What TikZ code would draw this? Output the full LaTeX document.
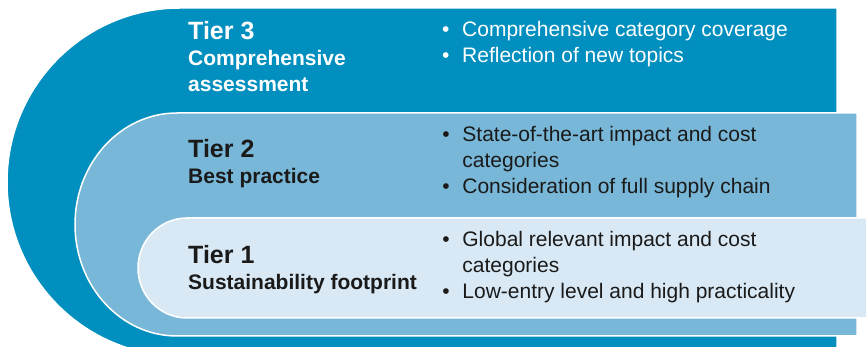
\documentclass[tikz,border=0pt]{standalone}
\usepackage{fontspec}
\setmainfont{Liberation Sans}
\usetikzlibrary{
    matrix,
    positioning
}
\definecolor{tierdark}{HTML}{008FBE}
\definecolor{tiermid}{HTML}{78B7D7}
\definecolor{tierlight}{HTML}{D8E9F5}
\definecolor{tiertext}{HTML}{1A1A1A}
\def\titlex{188}
\def\listx{442}
\tikzset{
    band/.style={
        draw=white,
        line width=1.5pt,
    },
    line/.style={
        inner sep=0pt,
        text height=19pt,
        text depth=7pt,
        anchor=base west,
    },
    title list/.style = {
        matrix of nodes,
        inner sep=0pt,
        anchor=north west,
        nodes = {line, font=\bfseries\fontsize{21}{26}\selectfont},
        row 1/.style = {nodes={font=\bfseries\fontsize{25}{30}\selectfont}},
    },
    bullet list/.style = {
        matrix of nodes,
        inner sep=0pt,
        anchor=north west,
        nodes = {line, font=\fontsize{21}{26}\selectfont},
        column 1/.style = {nodes={text width=20pt, align=left}},
    },
}

\begin{document}
\begin{tikzpicture}[x=1pt, y=1pt]
        \useasboundingbox (0,0) rectangle (866,347);
        \clip (0,0) rectangle (866,347);

        \draw [band, fill=tierdark] (837,339) -- (180,339)
            arc[start angle=90, end angle=270, x radius=173pt, y radius=174pt]
            -- (837,-9) -- cycle;
        \draw [band, fill=tiermid] (857,234) -- (177,234)
            arc[start angle=90, end angle=270, x radius=102pt, y radius=111.5pt]
            -- (857,11) -- cycle;
        \draw [band, fill=tierlight] (870,129) -- (187,129)
            arc[start angle=90, end angle=270, x radius=49pt, y radius=50pt]
            -- (870,29) -- cycle;

        \matrix (tier3) [title list, text=white] at (\titlex,327) {
            Tier 3 \\
            Comprehensive \\
            assessment \\
        };
        \matrix (tier2) [title list, text=tiertext] at (\titlex,209) {
            Tier 2 \\
            Best practice \\
        };
        \matrix (tier1) [title list, text=tiertext] at (\titlex,103) {
            Tier 1 \\
            Sustainability footprint \\
        };

        \matrix (list3) [bullet list, text=white] at (\listx,330) {
            \textbullet & Comprehensive category coverage \\
            \textbullet & Reflection of new topics \\
        };
        \matrix (list2) [bullet list, text=tiertext] at (\listx,225) {
            \textbullet & State-of-the-art impact and cost \\
                        & categories \\
            \textbullet & Consideration of full supply chain \\
        };
        \matrix (list1) [bullet list, text=tiertext] at (\listx,120) {
            \textbullet & Global relevant impact and cost \\
                        & categories \\
            \textbullet & Low-entry level and high practicality \\
        };

    \end{tikzpicture}
\end{document}
